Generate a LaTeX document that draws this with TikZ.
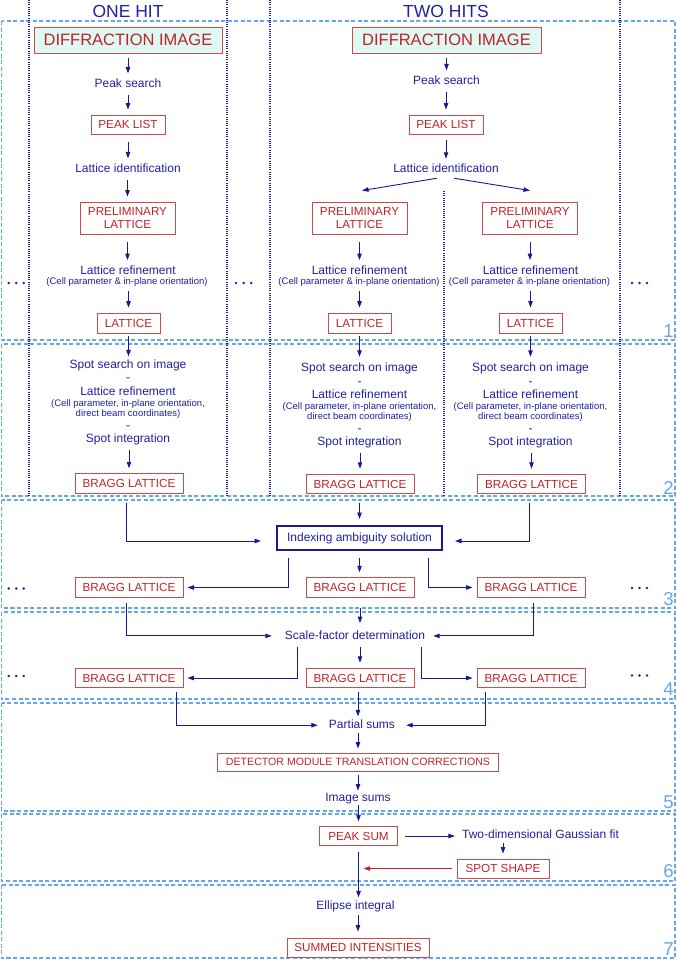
\documentclass[tikz,border=0pt]{standalone}
\usepackage{fontspec}
\setmainfont{Liberation Sans}
\usetikzlibrary{arrows.meta,calc}
\definecolor{navy}{RGB}{32,32,160}
\definecolor{arrblue}{RGB}{25,25,150}
\definecolor{redtxt}{RGB}{190,35,40}
\definecolor{redbox}{RGB}{205,75,75}
\definecolor{dicyan}{RGB}{222,249,243}
\definecolor{lblue}{RGB}{100,168,232}
\begin{document}
\begin{tikzpicture}[x=1pt,y=-1pt,
 lbl/.style={inner sep=0pt, anchor=base, text=navy, text depth=2.5pt, font=\fontsize{12}{14}\selectfont},
 sublbl/.style={lbl, text depth=2pt, font=\fontsize{9.5}{11}\selectfont},
 ttl/.style={lbl, font=\fontsize{17.5}{20}\selectfont},
 rbox/.style={draw=redbox, line width=0.9pt, text=redtxt, inner sep=0pt, font=\fontsize{11.7}{13}\selectfont},
 bl/.style={rbox, minimum width=108pt, minimum height=19.5pt},
 arr/.style={color=arrblue, line width=0.9pt, -{Triangle[length=6.5pt,width=4.5pt]}, shorten <=4.5pt, shorten >=5pt},
 arrE/.style={arr, shorten <=0pt, shorten >=0pt},
 arrR/.style={arrE, color=redtxt},
 sec/.style={draw=lblue, line width=1.5pt, dash pattern=on 4pt off 2.5pt},
 vdot/.style={draw=navy, line width=1.3pt, dash pattern=on 1pt off 1.2pt},
 num/.style={inner sep=0pt, anchor=base east, text=lblue, font=\fontsize{18.6}{20}\selectfont},
 dotc/.style={fill=navy, draw=none}
]
\useasboundingbox (0,0) rectangle (677,961);

% section frames
\draw[sec] (1.5,21) rectangle (675,340);
\draw[sec] (1.5,344) rectangle (675,496);
\draw[sec] (1.5,500) rectangle (675,608);
\draw[sec] (1.5,612) rectangle (675,699);
\draw[sec] (1.5,703) rectangle (675,811);
\draw[sec] (1.5,814) rectangle (675,881);
\draw[sec] (1.5,885) rectangle (675,958);

% column separators
\draw[vdot] (29,0) -- (29,496);
\draw[vdot] (227,0) -- (227,496);
\draw[vdot] (270,0) -- (270,496);
\draw[vdot] (620,0) -- (620,496);
\draw[vdot] (444,191) -- (444,496);

% section numbers
\node[num] (n1) at (674,337) {1};
\node[num] (n2) at (674,494) {2};
\node[num] (n3) at (674,605) {3};
\node[num] (n4) at (674,695) {4};
\node[num] (n5) at (674,808) {5};
\node[num] (n6) at (674,877) {6};
\node[num] (n7) at (674,955.5) {7};

% ellipsis dots
\foreach \x in {8.7,16.3,23.7} {\fill[dotc] (\x,283) circle[radius=1.4pt];
  \fill[dotc] (\x,588.5) circle[radius=1.4pt]; \fill[dotc] (\x,676) circle[radius=1.4pt];}
\foreach \x in {236,243.7,251.3} {\fill[dotc] (\x,283) circle[radius=1.4pt];}
\foreach \x in {632,639.5,647} {\fill[dotc] (\x,283) circle[radius=1.4pt];
  \fill[dotc] (\x,588) circle[radius=1.4pt]; \fill[dotc] (\x,675.5) circle[radius=1.4pt];}

% titles
\node[ttl] (oneHit) at (128,17.5) {ONE HIT};
\node[ttl] (twoHits) at (446,17.3) {TWO HITS};

% ---------- ONE HIT column ----------
\node[rbox, fill=dicyan, minimum width=188pt, minimum height=26pt, font=\fontsize{16.5}{18}\selectfont] (diA) at (128,40) {DIFFRACTION IMAGE};
\node[lbl] (psA) at (128,87.3) {Peak search};
\node[rbox, minimum width=74pt, minimum height=19pt] (plA) at (128,124.5) {PEAK LIST};
\node[lbl] (liA) at (128,172.3) {Lattice identification};
\node[rbox, minimum width=95pt, minimum height=32pt, align=center, font=\fontsize{11.7}{13}\selectfont] (prA) at (127.5,218) {PRELIMINARY\\LATTICE};
\node[lbl] (lrA) at (128,274) {Lattice refinement};
\node[sublbl] (lrsA) at (127,284.5) {(Cell parameter \& in-plane orientation)};
\node[rbox, minimum width=63pt, minimum height=20pt] (laA) at (128.5,323) {LATTICE};
\node[lbl] (ssA) at (128,368.3) {Spot search on image};
\node[lbl] (daA) at (128,381.6) {-};
\node[lbl] (lr2A) at (128,395) {Lattice refinement};
\node[sublbl] (cpA) at (128,406) {(Cell parameter, in-plane orientation,};
\node[sublbl] (dbA) at (128,416) {direct beam coordinates)};
\node[lbl] (dbbA) at (128,429.3) {-};
\node[lbl] (siA) at (128,442.3) {Spot integration};
\node[bl] (bA2) at (129,483.5) {BRAGG LATTICE};

\draw[arr] (diA.south) -- (diA.south |- psA.north);
\draw[arr] (psA.south -| plA.north) -- (plA.north);
\draw[arr, shorten <=7.5pt] (plA.south) -- (plA.south |- liA.north);
\draw[arr] (liA.south -| prA.north) -- (prA.north);
\draw[arr, shorten <=8pt] (prA.south) -- (prA.south |- lrA.north);
\draw[arr] (lrsA.south -| laA.north) -- (laA.north);
\draw[arr, shorten <=3pt, shorten >=3pt] (laA.south) -- (laA.south |- ssA.north);
\draw[arr] (siA.south -| bA2.north) -- (bA2.north);

% ---------- TWO HITS column ----------
\node[rbox, fill=dicyan, minimum width=189pt, minimum height=26pt, font=\fontsize{16.5}{18}\selectfont] (diB) at (446.5,40) {DIFFRACTION IMAGE};
\node[lbl] (psB) at (446.5,84.3) {Peak search};
\node[rbox, minimum width=74pt, minimum height=19pt] (plB) at (446,124.5) {PEAK LIST};
\node[lbl] (liB) at (446,172.7) {Lattice identification};
\node[rbox, minimum width=95pt, minimum height=32pt, align=center, font=\fontsize{11.7}{13}\selectfont] (prB) at (359.5,218) {PRELIMINARY\\LATTICE};
\node[rbox, minimum width=95pt, minimum height=32pt, align=center, font=\fontsize{11.7}{13}\selectfont] (prC) at (530,218) {PRELIMINARY\\LATTICE};
\node[lbl] (lrB) at (359.5,274) {Lattice refinement};
\node[sublbl] (lrsB) at (359,284.5) {(Cell parameter \& in-plane orientation)};
\node[lbl] (lrC) at (530.5,274) {Lattice refinement};
\node[sublbl] (lrsC) at (529.5,284.5) {(Cell parameter \& in-plane orientation)};
\node[rbox, minimum width=63pt, minimum height=20pt] (laB) at (359.5,323) {LATTICE};
\node[rbox, minimum width=63pt, minimum height=20pt] (laC) at (530.5,323) {LATTICE};

\node[lbl] (ssB) at (359.5,371.7) {Spot search on image};
\node[lbl] (daB) at (359.5,385) {-};
\node[lbl] (lr2B) at (359.5,398.3) {Lattice refinement};
\node[sublbl] (cpB) at (359.5,409.3) {(Cell parameter, in-plane orientation,};
\node[sublbl] (dbB) at (359.5,419.3) {direct beam coordinates)};
\node[lbl] (dbbB) at (359.5,432.7) {-};
\node[lbl] (siB) at (359.5,445.7) {Spot integration};
\node[bl] (bB2) at (360,484) {BRAGG LATTICE};

\node[lbl] (ssC) at (530.5,371.7) {Spot search on image};
\node[lbl] (daC) at (530.5,385) {-};
\node[lbl] (lr2C) at (530.5,398.3) {Lattice refinement};
\node[sublbl] (cpC) at (530.5,409.3) {(Cell parameter, in-plane orientation,};
\node[sublbl] (dbC) at (530.5,419.3) {direct beam coordinates)};
\node[lbl] (dbbC) at (530.5,432.7) {-};
\node[lbl] (siC) at (530.5,445.7) {Spot integration};
\node[bl] (bC2) at (531.5,484) {BRAGG LATTICE};

\draw[arr] (diB.south) -- (diB.south |- psB.north);
\draw[arr] (psB.south -| plB.north) -- (plB.north);
\draw[arr, shorten <=6pt] (plB.south) -- (plB.south |- liB.north);
\draw[arrE] ([xshift=-9pt,yshift=-2.8pt]liB.south) -- ([xshift=2.5pt,yshift=11pt]prB.north);
\draw[arrE] ([xshift=8pt,yshift=-2.8pt]liB.south) -- ([yshift=11pt]prC.north);
\draw[arr, shorten <=8pt] (prB.south) -- (prB.south |- lrB.north);
\draw[arr, shorten <=8pt] (prC.south) -- (prC.south |- lrC.north);
\draw[arr] (lrsB.south -| laB.north) -- (laB.north);
\draw[arr] (lrsC.south -| laC.north) -- (laC.north);
\draw[arr, shorten <=3pt, shorten >=6pt] (laB.south) -- (laB.south |- ssB.north);
\draw[arr, shorten <=3pt, shorten >=6pt] (laC.south) -- (laC.south |- ssC.north);
\draw[arr] (siB.south -| bB2.north) -- (bB2.north);
\draw[arr] (siC.south -| bC2.north) -- (bC2.north);

% ---------- section 3 ----------
\node[draw=arrblue, line width=2pt, inner sep=0pt, minimum width=165pt, minimum height=24pt, text=navy, font=\fontsize{12}{14}\selectfont] (ind) at (359.5,538) {Indexing ambiguity solution};
\node[bl] (bA3) at (129,587.5) {BRAGG LATTICE};
\node[bl] (bB3) at (360,587.5) {BRAGG LATTICE};
\node[bl] (bC3) at (531,587.5) {BRAGG LATTICE};

\draw[arrE] ([xshift=-3pt,yshift=-9pt]bA2.south) |- ([xshift=-15pt,yshift=-3pt]ind.west);
\draw[arr, shorten <=9pt, shorten >=6pt] (bB2.south -| ind.north) -- (ind.north);
\draw[arrE] ([xshift=-2.5pt,yshift=-9pt]bC2.south) |- ([xshift=12pt,yshift=-3pt]ind.east);
\draw[arrE] ([xshift=-71.5pt,yshift=-7pt]ind.south) |- ([xshift=4pt]bA3.east);
\draw[arr, shorten <=7pt, shorten >=5pt] (ind.south) -- (ind.south |- bB3.north);
\draw[arrE] ([xshift=68.5pt,yshift=-7pt]ind.south) |- ([xshift=-4pt]bC3.west);

% ---------- section 4 ----------
\node[lbl] (sf) at (355,639) {Scale-factor determination};
\node[bl] (bA4) at (129,678) {BRAGG LATTICE};
\node[bl] (bB4) at (360,678) {BRAGG LATTICE};
\node[bl] (bC4) at (531,678) {BRAGG LATTICE};

\draw[arrE] ([xshift=-3pt,yshift=-5pt]bA3.south) |- ([xshift=-13pt]sf.west);
\draw[arr, shorten <=10pt, shorten >=7pt] (bB3.south) -- (bB3.south |- sf.north);
\draw[arrE] ([xshift=2pt,yshift=-5pt]bC3.south) |- ([xshift=8pt]sf.east);
\draw[arrE] ([xshift=-58pt,yshift=-5.5pt]sf.south) |- ([xshift=4pt]bA4.east);
\draw[arr, shorten <=5.5pt, shorten >=5pt] (sf.south -| bB4.north) -- (bB4.north);
\draw[arrE] ([xshift=66pt,yshift=-5.5pt]sf.south) |- ([xshift=-4pt]bC4.west);

% ---------- section 5 ----------
\node[lbl] (pss) at (362,728.3) {Partial sums};
\node[rbox, minimum width=281pt, minimum height=18pt, font=\fontsize{10.6}{12}\selectfont] (dmc) at (358,762) {DETECTOR MODULE TRANSLATION CORRECTIONS};
\node[lbl] (ims) at (358,801) {Image sums};

\draw[arrE] ([xshift=47pt,yshift=-4pt]bA4.south) |- ([xshift=-11pt]pss.west);
\draw[arr, shorten <=4pt, shorten >=3pt] (bB4.south -| dmc.north) -- (pss.north -| dmc.north);
\draw[arrE] ([xshift=-46pt,yshift=-4pt]bC4.south) |- ([xshift=11pt]pss.east);
\draw[arr, shorten <=1.5pt, shorten >=4pt] (pss.south -| dmc.north) -- (dmc.north);
\draw[arr, shorten <=4pt, shorten >=2pt] (dmc.south) -- (dmc.south |- ims.north);

% ---------- section 6 ----------
\node[rbox, minimum width=78pt, minimum height=18.5pt] (pk) at (358.5,836) {PEAK SUM};
\node[lbl] (td) at (540.5,838.3) {Two-dimensional Gaussian fit};
\node[rbox, minimum width=92pt, minimum height=19pt] (ss) at (503,868.5) {SPOT SHAPE};
\coordinate (jn) at (ss.west -| pk.south);

\draw[arr, shorten <=1.5pt, shorten >=5pt] (ims.south -| pk.north) -- (pk.north);
\draw[arr, shorten <=7pt, shorten >=7pt] (pk.east) -- (pk.east -| td.west);
\draw[arr, shorten <=1.5pt, shorten >=5pt] (td.south -| ss.north) -- (ss.north);
\draw[arrR] ([xshift=-5pt]ss.west) -- ([xshift=5pt]jn);

% ---------- section 7 ----------
\node[lbl] (ell) at (355.5,909.3) {Ellipse integral};
\node[rbox, minimum width=142pt, minimum height=19pt] (sum) at (358,947.5) {SUMMED INTENSITIES};

\draw[arr, shorten <=6pt, shorten >=3pt] (pk.south) -- (pk.south |- ell.north);
\draw[arr, shorten <=3pt, shorten >=6pt] (ell.south -| sum.north) -- (sum.north);
\end{tikzpicture}
\end{document}
